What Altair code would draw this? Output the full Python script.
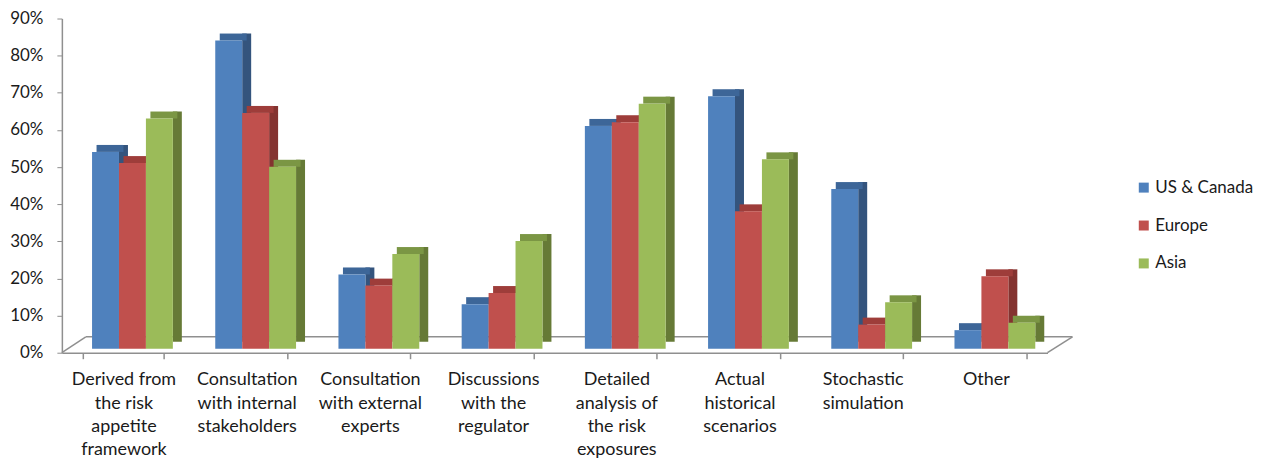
import altair as alt
import pandas as pd

categories = [
    "Derived from the risk appetite framework",
    "Consultation with internal stakeholders",
    "Consultation with external experts",
    "Discussions with the regulator",
    "Detailed analysis of the risk exposures",
    "Actual historical scenarios",
    "Stochastic simulation",
    "Other",
]
category_lines = [
    ["Derived from", "the risk", "appetite", "framework"],
    ["Consultation", "with internal", "stakeholders"],
    ["Consultation", "with external", "experts"],
    ["Discussions", "with the", "regulator"],
    ["Detailed", "analysis of", "the risk", "exposures"],
    ["Actual", "historical", "scenarios"],
    ["Stochastic", "simulation"],
    ["Other"],
]
series = ["US & Canada", "Europe", "Asia"]
us_canada = [0.53, 0.83, 0.20, 0.12, 0.60, 0.68, 0.43, 0.05]
europe = [0.50, 0.635, 0.17, 0.15, 0.61, 0.37, 0.065, 0.195]
asia = [0.62, 0.49, 0.255, 0.29, 0.66, 0.51, 0.125, 0.07]
y_ticks = [0, 0.1, 0.2, 0.3, 0.4, 0.5, 0.6, 0.7, 0.8, 0.9]

# styles
front_colors = ["#4F81BD", "#C0504D", "#9BBB59"]
top_colors = ["#3D6698", "#9E3D3A", "#7B9644"]
side_colors = ["#34547D", "#843330", "#667A36"]
FONT = "Lato"
TEXT = "#1a1a1a"
GRAY = "#8f8f8f"

rows = []
for vals, s in zip([us_canada, europe, asia], series):
    for c, v in zip(categories, vals):
        rows.append({"category": c, "series": s, "value": v})
df = pd.DataFrame(rows)

W, H = 988, 335
DX, DY = 9, 7

# multi-line label expression
expr = "''"
for c, lines in reversed(list(zip(categories, category_lines))):
    arr = "[" + ",".join("'" + l + "'" for l in lines) + "]"
    expr = f"datum.label == '{c}' ? {arr} : ({expr})"

x_axis = alt.Axis(
    title=None, labelExpr=expr, labelAngle=0, labelFont=FONT, labelFontSize=18,
    labelColor=TEXT, labelLineHeight=23.5, labelPadding=12, labelBaseline="top",
    tickBand="extent", tickSize=6, tickColor=GRAY, domainColor=GRAY, domainWidth=1.5,
    tickWidth=1.5, labelLimit=0,
)
y_axis = alt.Axis(
    title=None, values=y_ticks, format=".0%", labelFont=FONT, labelFontSize=17,
    labelColor=TEXT, labelPadding=14, tickSize=5, tickColor=GRAY, domainColor=GRAY,
    domainWidth=1.5, grid=False,
)

X = alt.X("category:N", sort=categories,
          scale=alt.Scale(paddingInner=1 - 81 / 123.5, paddingOuter=(1 - 81 / 123.5) / 2),
          axis=x_axis)
Y = alt.Y("value:Q", scale=alt.Scale(domain=[0, 0.9]), axis=y_axis)


def xoff(shift):
    return alt.XOffset("series:N", sort=series,
                       scale=alt.Scale(range=[shift, shift + 81], paddingInner=0, paddingOuter=0))


base = alt.Chart(df)

side = base.mark_bar(width=DX, yOffset=-4 - DY, y2Offset=-4 - DY / 2).encode(
    x=X, y=Y, xOffset=xoff(9 + 27 / 2 + DX / 2),
    color=alt.Color("series:N", sort=series, scale=alt.Scale(domain=series, range=side_colors), legend=None),
)
top = base.mark_bar(yOffset=-4 - DY, y2Offset=-4).encode(
    x=X, y=Y, y2=alt.Y2("value:Q"), xOffset=xoff(9 + DX / 2),
    color=alt.Color("series:N", sort=series, scale=alt.Scale(domain=series, range=top_colors), legend=None),
)
front = base.mark_bar(yOffset=-4, y2Offset=-4).encode(
    x=X, y=Y, xOffset=xoff(9),
    color=alt.Color("series:N", sort=series, scale=alt.Scale(domain=series, range=front_colors),
                    legend=alt.Legend(title=None, orient="none", legendX=1076, legendY=161,
                                      symbolType="square", symbolSize=100, symbolStrokeWidth=0,
                                      labelFont=FONT, labelFontSize=17, labelColor=TEXT,
                                      rowPadding=20, labelOffset=3, padding=0, labelLimit=0)),
)

fl = alt.Chart(pd.DataFrame({"k": [0]}))
floor_back = fl.mark_rule(color=GRAY, strokeWidth=1.5).encode(
    x=alt.value(24), x2=alt.value(W + 25), y=alt.value(H - 16))
floor_left = fl.mark_rule(color=GRAY, strokeWidth=1.5).encode(
    x=alt.value(0), x2=alt.value(24), y=alt.value(H), y2=alt.value(H - 16))
floor_right = fl.mark_rule(color=GRAY, strokeWidth=1.5).encode(
    x=alt.value(W), x2=alt.value(W + 25), y=alt.value(H), y2=alt.value(H - 16))

chart = alt.layer(floor_back, floor_left, floor_right, side, top, front).resolve_scale(
    xOffset="independent", color="independent"
).properties(
    width=W, height=H,
    autosize=alt.AutoSizeParams(type="none"),
    padding={"left": 54, "top": 10, "right": 210, "bottom": 109},
    background="white",
).configure_view(stroke=None)

chart.save("out.html", embed_options={"renderer": "svg", "actions": False})
